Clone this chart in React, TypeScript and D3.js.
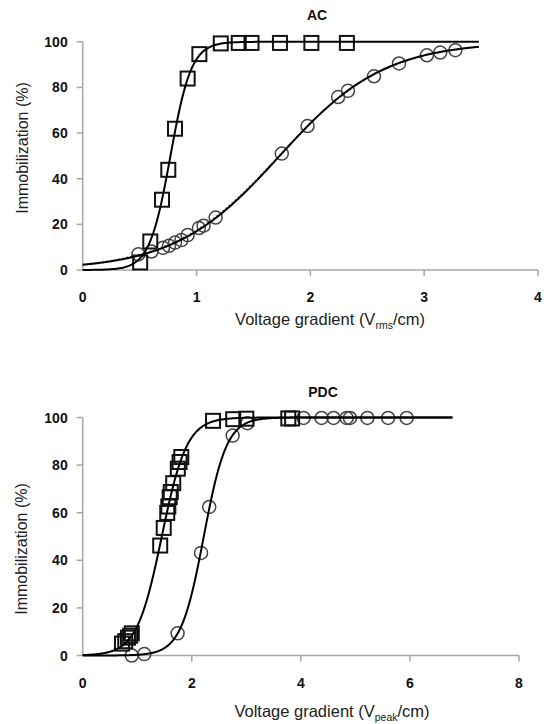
import React from "react";
import * as d3 from "d3";

// ---------- AC data ----------
const acTitle = "AC";
const acSquareX = [0.505, 0.594, 0.697, 0.752, 0.811, 0.922, 1.025, 1.213, 1.371, 1.483, 1.733, 2.009, 2.321];
const acSquareY = [3.3, 12.5, 30.8, 43.9, 61.9, 83.9, 94.6, 99.3, 99.5, 99.5, 99.5, 99.5, 99.5];
const acCircleX = [0.489, 0.604, 0.705, 0.758, 0.811, 0.867, 0.922, 1.021, 1.062, 1.168, 1.749, 1.975, 2.244, 2.33, 2.559, 2.779, 3.024, 3.141, 3.274];
const acCircleY = [6.9, 8.1, 9.7, 10.6, 12.0, 13.1, 15.3, 18.4, 19.4, 23.0, 51.0, 63.1, 75.8, 78.5, 84.9, 90.5, 94.1, 95.3, 96.3];
// fitted logistic parameters [midpoint, scale, xmax]
const acSquareFit = [0.771, 0.092, 3.48];
const acCircleFit = [1.73, 0.46, 3.48];
const acCircleFitAlt = [1.725, 0.468, 3.48];
const acXTicks = [0, 1, 2, 3, 4];

// ---------- PDC data ----------
const pdcTitle = "PDC";
const pdcSquareX = [0.72, 0.78, 0.83, 0.87, 0.9, 1.421, 1.486, 1.55, 1.57, 1.595, 1.615, 1.66, 1.744, 1.776, 1.808, 2.39, 2.76, 3.0, 3.77, 3.84];
const pdcSquareY = [5, 6, 7.5, 8.3, 9.3, 46.2, 53.6, 59.9, 62.6, 66.5, 68.7, 72.4, 78.5, 81.3, 83.4, 98.6, 99.3, 99.5, 99.6, 99.6];
const pdcCircleX = [0.9, 1.13, 1.74, 2.17, 2.32, 2.75, 3.02, 4.05, 4.38, 4.6, 4.84, 4.9, 5.22, 5.6, 5.94];
const pdcCircleY = [0, 0.6, 9.3, 43.1, 62.4, 92.4, 97.6, 99.8, 99.8, 99.8, 99.8, 99.8, 99.8, 99.8, 99.8];
const pdcSquareFit = [1.45, 0.23, 6.78];
const pdcCircleFit = [2.22, 0.21, 6.78];
const pdcXTicks = [0, 2, 4, 6, 8];

const yTicks = [0, 20, 40, 60, 80, 100];

const FONT = "'Liberation Sans', Arial, sans-serif";
const AXIS = "#a6a6a6";

function fitLine(params: number[]) {
  const [m, s, xmax] = params;
  const pts = d3.range(0, xmax + 0.0001, 0.01).map((x) => [x, 100 / (1 + Math.exp(-(x - m) / s))] as [number, number]);
  return pts;
}

type PanelProps = {
  title: string;
  titleX: number;
  titleY: number;
  xDomain: [number, number];
  xRange: [number, number];
  yRange: [number, number];
  xTicks: number[];
  sqX: number[];
  sqY: number[];
  ciX: number[];
  ciY: number[];
  fits: number[][];
  dashedFits: number[][];
  xTitleX: number;
  xTitleY: number;
  yTitleX: number;
  yTitleY: number;
  sub: string;
};

function Panel(p: PanelProps) {
  const x = d3.scaleLinear().domain(p.xDomain).range(p.xRange);
  const y = d3.scaleLinear().domain([0, 100]).range(p.yRange);
  const line = d3
    .line<[number, number]>()
    .x((d) => x(d[0]))
    .y((d) => y(d[1]));
  const x0 = p.xRange[0];
  const y0 = p.yRange[0];
  const sq = 14;
  return (
    <g>
      <text x={p.titleX} y={p.titleY} textAnchor="middle" fontFamily={FONT} fontWeight="bold" fontSize={14} fill="#111">
        {p.title}
      </text>
      {/* axes */}
      <line x1={x0} x2={x0} y1={p.yRange[1]} y2={y0} stroke={AXIS} strokeWidth={1.5} />
      <line x1={x0} x2={p.xRange[1]} y1={y0} y2={y0} stroke={AXIS} strokeWidth={1.5} />
      {yTicks.map((t) => (
        <g key={"y" + t}>
          <line x1={x0 - 6} x2={x0} y1={y(t)} y2={y(t)} stroke={AXIS} strokeWidth={1.5} />
          <text x={x0 - 15} y={y(t) + 5} textAnchor="end" fontFamily={FONT} fontWeight="bold" fontSize={14} fill="#111">
            {t}
          </text>
        </g>
      ))}
      {p.xTicks.map((t) => (
        <g key={"x" + t}>
          {t !== p.xDomain[0] && <line x1={x(t)} x2={x(t)} y1={y0} y2={y0 + 6} stroke={AXIS} strokeWidth={1.5} />}
          <text x={x(t)} y={y0 + 32} textAnchor="middle" fontFamily={FONT} fontWeight="bold" fontSize={14} fill="#111">
            {t}
          </text>
        </g>
      ))}
      {/* axis titles */}
      <text x={p.xTitleX} y={p.xTitleY} textAnchor="middle" fontFamily={FONT} fontSize={16.5} fill="#222">
        Voltage gradient (V
        <tspan fontSize={10.5} dy={4}>
          {p.sub}
        </tspan>
        <tspan dy={-4}>/cm)</tspan>
      </text>
      <text
        transform={`translate(${p.yTitleX},${p.yTitleY}) rotate(-90)`}
        textAnchor="middle"
        fontFamily={FONT}
        fontSize={16}
        fill="#222"
      >
        Immobilization (%)
      </text>
      {/* markers */}
      {p.ciX.map((v, i) => (
        <circle key={"c" + i} cx={x(v)} cy={y(p.ciY[i])} r={6.5} fill="none" stroke="#444" strokeWidth={1.5} />
      ))}
      {p.sqX.map((v, i) => (
        <rect
          key={"s" + i}
          x={x(v) - sq / 2}
          y={y(p.sqY[i]) - sq / 2}
          width={sq}
          height={sq}
          fill="none"
          stroke="#111"
          strokeWidth={2}
        />
      ))}
      {/* fitted curves */}
      {p.dashedFits.map((f, i) => (
        <path key={"d" + i} d={line(fitLine(f)) || ""} fill="none" stroke="#666" strokeWidth={1.5} strokeDasharray="2,2" />
      ))}
      {p.fits.map((f, i) => (
        <path key={"f" + i} d={line(fitLine(f)) || ""} fill="none" stroke="#000" strokeWidth={2} />
      ))}
    </g>
  );
}

export default function App() {
  return (
    <svg
      width={552}
      height={724}
      style={{ position: "absolute", left: 0, top: 0, background: "#fff" }}
    >
      <rect width={552} height={724} fill="#fff" />
      <Panel
        title={acTitle}
        titleX={317}
        titleY={20}
        xDomain={[0, 4]}
        xRange={[82.7, 538]}
        yRange={[270, 41.8]}
        xTicks={acXTicks}
        sqX={acSquareX}
        sqY={acSquareY}
        ciX={acCircleX}
        ciY={acCircleY}
        fits={[acSquareFit, acCircleFit]}
        dashedFits={[acCircleFitAlt]}
        xTitleX={330}
        xTitleY={325}
        yTitleX={28}
        yTitleY={148}
        sub="rms"
      />
      <Panel
        title={pdcTitle}
        titleX={323}
        titleY={397}
        xDomain={[0, 8]}
        xRange={[82.7, 519]}
        yRange={[655.5, 417.5]}
        xTicks={pdcXTicks}
        sqX={pdcSquareX}
        sqY={pdcSquareY}
        ciX={pdcCircleX}
        ciY={pdcCircleY}
        fits={[pdcSquareFit, pdcCircleFit]}
        dashedFits={[]}
        xTitleX={332}
        xTitleY={717}
        yTitleX={27}
        yTitleY={549}
        sub="peak"
      />
    </svg>
  );
}
